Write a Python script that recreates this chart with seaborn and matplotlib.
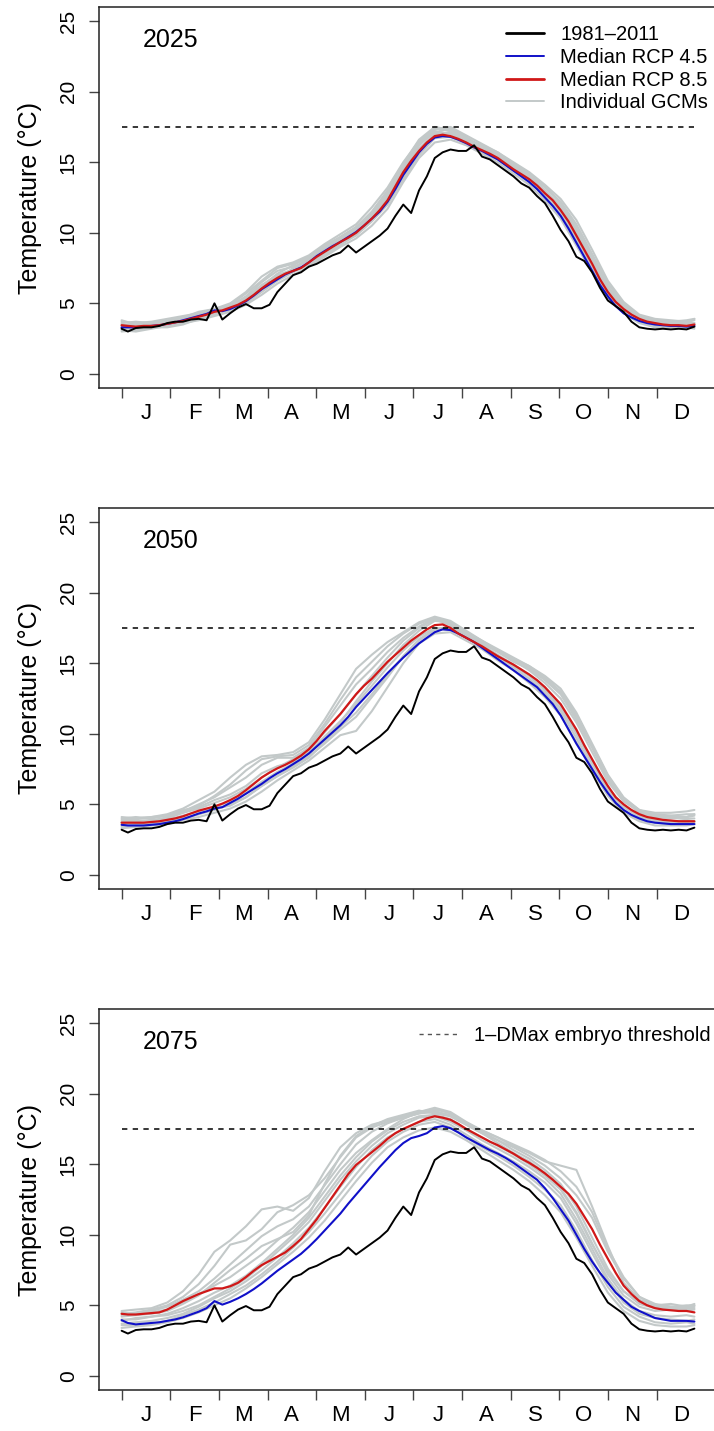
import numpy as np
import pandas as pd
import seaborn as sns
import matplotlib.pyplot as plt
from matplotlib.lines import Line2D

# day-of-year grids (medians / baseline every 5 days, GCMs every 10 days)
days = [1] + list(range(5, 366, 5))
gcm_days = [1] + list(range(10, 361, 10)) + [365]

month_labels = ['J', 'F', 'M', 'A', 'M', 'J', 'J', 'A', 'S', 'O', 'N', 'D']
years = ['2025', '2050', '2075']
threshold = 17.5

# observed climatology (same in every panel)
black_1981_2011 = [
    3.2, 3.0, 3.25, 3.3, 3.3, 3.4, 3.6, 3.7, 3.7, 3.85,
    3.9, 3.8, 5.0, 3.85, 4.3, 4.7, 4.95, 4.65, 4.65, 4.9,
    5.8, 6.4, 7.0, 7.2, 7.6, 7.8, 8.1, 8.4, 8.6, 9.1,
    8.6, 9.0, 9.4, 9.8, 10.3, 11.2, 12.0, 11.4, 13.0, 14.0,
    15.3, 15.7, 15.9, 15.8, 15.8, 16.2, 15.4, 15.2, 14.8, 14.4,
    14.0, 13.5, 13.2, 12.6, 12.1, 11.2, 10.2, 9.4, 8.3, 8.0,
    7.2, 6.1, 5.2, 4.8, 4.4, 3.7, 3.3, 3.2, 3.15, 3.2,
    3.15, 3.2, 3.15, 3.35]

# medians
rcp45_2025 = [
    3.3, 3.3, 3.3, 3.35, 3.4, 3.45, 3.55, 3.65, 3.8, 3.95,
    4.1, 4.25, 4.5, 4.45, 4.6, 4.85, 5.15, 5.55, 6.0, 6.35,
    6.7, 7.05, 7.3, 7.55, 7.9, 8.35, 8.7, 9.05, 9.35, 9.7,
    10.05, 10.5, 11.0, 11.5, 12.2, 13.1, 14.1, 14.9, 15.7, 16.3,
    16.75, 16.85, 16.8, 16.6, 16.35, 16.05, 15.8, 15.5, 15.2, 14.8,
    14.4, 14.0, 13.6, 13.1, 12.5, 11.9, 11.2, 10.3, 9.3, 8.3,
    7.3, 6.3, 5.5, 4.8, 4.3, 4.0, 3.75, 3.6, 3.5, 3.45,
    3.4, 3.4, 3.35, 3.4]
rcp85_2025 = [
    3.45, 3.4, 3.35, 3.4, 3.4, 3.45, 3.55, 3.65, 3.75, 3.9,
    4.05, 4.2, 4.4, 4.5, 4.7, 4.9, 5.2, 5.6, 6.05, 6.45,
    6.8, 7.1, 7.3, 7.5, 7.9, 8.3, 8.65, 9.0, 9.35, 9.65,
    10.0, 10.5, 11.0, 11.6, 12.3, 13.3, 14.3, 15.1, 15.8, 16.4,
    16.85, 16.95, 16.85, 16.65, 16.4, 16.1, 15.85, 15.6, 15.3, 14.9,
    14.5, 14.15, 13.8, 13.35, 12.8, 12.3, 11.6, 10.8, 9.8, 8.8,
    7.8, 6.7, 5.8, 5.1, 4.6, 4.2, 3.9, 3.7, 3.6, 3.5,
    3.45, 3.45, 3.4, 3.5]
rcp45_2050 = [
    3.55, 3.5, 3.5, 3.5, 3.55, 3.6, 3.7, 3.8, 3.95, 4.15,
    4.35, 4.5, 4.7, 4.8, 5.1, 5.4, 5.75, 6.1, 6.45, 6.85,
    7.2, 7.5, 7.85, 8.2, 8.6, 9.1, 9.6, 10.1, 10.6, 11.2,
    11.9, 12.5, 13.1, 13.7, 14.3, 14.85, 15.4, 15.9, 16.4, 16.8,
    17.2, 17.4, 17.35, 17.1, 16.8, 16.5, 16.1, 15.7, 15.3, 14.9,
    14.5, 14.1, 13.7, 13.3, 12.7, 12.1, 11.3, 10.3, 9.3, 8.4,
    7.5, 6.6, 5.8, 5.1, 4.6, 4.25, 4.0, 3.8, 3.7, 3.65,
    3.6, 3.6, 3.6, 3.6]
rcp85_2050 = [
    3.7, 3.7, 3.7, 3.7, 3.75, 3.8, 3.9, 4.0, 4.15, 4.35,
    4.55, 4.7, 4.85, 5.05, 5.3, 5.6, 6.0, 6.45, 6.9, 7.25,
    7.55, 7.8, 8.1, 8.45, 8.9, 9.5, 10.2, 10.8, 11.4, 12.1,
    12.8, 13.4, 13.9, 14.5, 15.1, 15.6, 16.1, 16.6, 17.0, 17.4,
    17.7, 17.75, 17.5, 17.1, 16.8, 16.5, 16.2, 15.85, 15.5, 15.2,
    14.9, 14.55, 14.2, 13.8, 13.3, 12.7, 12.1, 11.2, 10.3, 9.2,
    8.2, 7.2, 6.3, 5.5, 5.0, 4.6, 4.3, 4.1, 4.0, 3.9,
    3.85, 3.8, 3.8, 3.8]
rcp45_2075 = [
    3.95, 3.75, 3.65, 3.7, 3.75, 3.8, 3.9, 4.0, 4.15, 4.35,
    4.55, 4.8, 5.3, 5.05, 5.25, 5.5, 5.8, 6.15, 6.55, 7.0,
    7.45, 7.85, 8.25, 8.65, 9.15, 9.7, 10.3, 10.9, 11.5, 12.2,
    12.85, 13.5, 14.15, 14.8, 15.4, 16.0, 16.5, 16.85, 17.0, 17.2,
    17.6, 17.7, 17.55, 17.25, 16.9, 16.6, 16.3, 16.0, 15.75, 15.45,
    15.1, 14.7, 14.3, 13.9, 13.3, 12.6, 11.8, 11.0, 10.0, 9.0,
    8.1, 7.3, 6.6, 5.9, 5.4, 4.9, 4.6, 4.35, 4.1, 4.0,
    3.9, 3.9, 3.9, 3.85]
rcp85_2075 = [
    4.4, 4.35, 4.35, 4.4, 4.45, 4.5, 4.7, 5.0, 5.3, 5.55,
    5.8, 6.0, 6.2, 6.2, 6.35, 6.6, 7.0, 7.45, 7.85, 8.15,
    8.45, 8.75, 9.2, 9.7, 10.4, 11.1, 11.9, 12.7, 13.5, 14.3,
    14.95, 15.4, 15.85, 16.3, 16.8, 17.2, 17.5, 17.75, 18.0, 18.25,
    18.4, 18.3, 18.15, 17.85, 17.5, 17.2, 16.9, 16.6, 16.35, 16.05,
    15.75, 15.4, 15.1, 14.75, 14.35, 13.9, 13.4, 12.9, 12.2, 11.3,
    10.4, 9.3, 8.3, 7.3, 6.4, 5.8, 5.3, 5.0, 4.8, 4.7,
    4.65, 4.6, 4.6, 4.5]

# individual GCMs
gcms_2025 = [
    [3.6, 3.7, 3.6, 3.8, 4.0, 4.4, 4.6, 5.0, 5.8, 6.9, 7.6, 7.9, 8.4, 9.2, 9.9, 10.6, 11.8, 13.2, 15.0,
     16.5, 17.4, 17.2, 16.6, 16.1, 15.6, 14.8, 14.1, 13.2, 12.2, 10.6, 8.5, 6.4, 5.0, 4.1, 3.8, 3.7, 3.8, 3.9],
    [3.1, 3.0, 3.2, 3.4, 3.6, 3.8, 4.1, 4.4, 4.9, 5.6, 6.4, 7.0, 7.6, 8.3, 9.0, 9.6, 10.5, 11.7, 13.6,
     15.3, 16.4, 16.6, 16.2, 15.6, 15.0, 14.2, 13.4, 12.3, 11.0, 9.1, 7.2, 5.4, 4.3, 3.6, 3.3, 3.2, 3.2, 3.3],
    [3.5, 3.3, 3.5, 3.6, 3.9, 4.2, 4.6, 4.8, 5.5, 6.5, 7.3, 7.6, 8.0, 8.8, 9.6, 10.3, 11.3, 12.8, 14.8,
     16.3, 17.1, 17.4, 16.8, 16.0, 15.4, 14.7, 14.0, 13.0, 11.9, 10.2, 8.2, 6.1, 4.8, 4.0, 3.7, 3.6, 3.5, 3.6],
    [3.3, 3.5, 3.3, 3.5, 3.7, 4.0, 4.3, 4.5, 5.0, 5.8, 6.6, 7.2, 7.8, 8.5, 9.2, 9.8, 10.8, 12.0, 13.8,
     15.5, 16.7, 16.8, 16.3, 15.7, 15.2, 14.4, 13.7, 12.7, 11.5, 9.6, 7.5, 5.6, 4.5, 3.8, 3.5, 3.4, 3.3, 3.4],
    [3.7, 3.6, 3.7, 3.9, 4.1, 4.3, 4.6, 4.9, 5.4, 6.3, 7.0, 7.4, 8.1, 8.9, 9.5, 10.2, 11.2, 12.6, 14.5,
     16.0, 17.0, 17.1, 16.6, 16.0, 15.5, 14.7, 13.9, 13.0, 11.9, 10.1, 8.1, 6.0, 4.8, 4.0, 3.8, 3.7, 3.6, 3.9],
    [3.2, 3.2, 3.4, 3.5, 3.8, 4.1, 4.4, 4.8, 5.1, 5.9, 6.7, 7.5, 8.2, 8.7, 9.3, 10.1, 11.1, 12.5, 14.3,
     16.2, 17.2, 17.0, 16.5, 15.9, 15.4, 14.6, 13.8, 12.9, 11.7, 9.9, 7.9, 5.9, 4.6, 3.9, 3.6, 3.5, 3.5, 3.5],
    [3.4, 3.6, 3.5, 3.7, 3.9, 4.3, 4.4, 4.9, 5.7, 6.6, 7.5, 7.8, 8.3, 9.1, 9.7, 10.4, 11.5, 13.0, 14.9,
     16.6, 17.5, 17.3, 16.7, 16.2, 15.7, 15.0, 14.3, 13.4, 12.4, 10.9, 8.8, 6.6, 5.1, 4.2, 3.9, 3.8, 3.7, 3.8],
    [3.0, 3.1, 3.3, 3.3, 3.5, 3.9, 4.2, 4.6, 5.2, 6.1, 6.9, 7.3, 7.7, 8.4, 9.1, 9.9, 10.9, 12.2, 14.0,
     15.8, 16.9, 17.1, 16.4, 15.8, 15.3, 14.5, 13.6, 12.6, 11.3, 9.4, 7.4, 5.5, 4.3, 3.7, 3.4, 3.3, 3.3, 3.2],
    [3.8, 3.5, 3.6, 3.7, 4.0, 4.2, 4.5, 4.7, 5.3, 6.2, 7.1, 7.7, 8.3, 9.0, 9.7, 10.4, 11.4, 12.9, 14.6,
     16.4, 17.3, 17.5, 16.9, 16.3, 15.7, 14.9, 14.2, 13.3, 12.1, 10.4, 8.3, 6.2, 4.9, 4.1, 3.8, 3.6, 3.7, 3.6],
]
gcms_2050 = [
    [3.9, 4.0, 4.1, 4.3, 4.7, 5.3, 5.9, 6.9, 7.8, 8.4, 8.5, 8.7, 9.4, 11.0, 12.8, 14.6, 15.6, 16.5, 17.2,
     17.9, 18.3, 18.0, 17.3, 16.6, 15.9, 15.2, 14.5, 13.6, 12.5, 10.8, 8.7, 6.6, 5.2, 4.5, 4.2, 4.1, 4.0, 4.0],
    [3.3, 3.4, 3.5, 3.6, 3.9, 4.1, 4.4, 4.7, 5.2, 5.9, 6.7, 7.4, 8.1, 9.0, 9.9, 10.2, 11.6, 13.3, 15.0,
     16.4, 17.1, 17.2, 16.6, 16.0, 15.2, 14.5, 13.6, 12.6, 11.3, 9.4, 7.4, 5.6, 4.4, 3.8, 3.5, 3.5, 3.5, 3.6],
    [3.8, 3.9, 3.8, 4.1, 4.5, 5.0, 5.5, 6.2, 6.9, 7.8, 8.3, 8.3, 9.0, 10.5, 12.0, 13.5, 14.6, 15.8, 16.8,
     17.6, 18.2, 17.8, 17.0, 16.4, 15.8, 15.1, 14.6, 13.8, 12.8, 11.0, 9.0, 6.8, 5.3, 4.4, 4.1, 4.0, 4.1, 4.2],
    [3.5, 3.6, 3.7, 3.9, 4.2, 4.5, 4.8, 5.2, 5.8, 6.6, 7.3, 7.9, 8.7, 9.8, 10.9, 12.1, 13.4, 14.7, 15.9,
     16.9, 17.5, 17.4, 16.8, 16.1, 15.4, 14.8, 14.1, 13.1, 11.8, 10.0, 7.9, 6.0, 4.8, 4.1, 3.8, 3.7, 3.6, 3.7],
    [4.1, 4.0, 4.1, 4.2, 4.6, 4.8, 5.3, 5.7, 6.3, 7.2, 7.7, 8.0, 8.6, 9.6, 10.8, 12.3, 13.7, 15.0, 16.3,
     17.3, 18.0, 17.9, 17.2, 16.6, 16.0, 15.4, 14.8, 14.1, 13.2, 11.5, 9.3, 7.1, 5.5, 4.6, 4.4, 4.4, 4.5, 4.6],
    [3.6, 3.5, 3.6, 3.8, 4.0, 4.3, 4.7, 4.9, 5.5, 6.3, 7.0, 7.6, 8.3, 9.4, 10.5, 11.5, 12.8, 14.2, 15.5,
     16.6, 17.4, 17.6, 17.0, 16.3, 15.6, 14.9, 14.2, 13.3, 12.0, 10.2, 8.1, 6.2, 4.9, 4.2, 3.9, 3.8, 3.9, 3.8],
    [3.7, 3.8, 3.9, 4.0, 4.4, 4.9, 5.6, 6.4, 7.4, 8.2, 8.4, 8.5, 9.2, 10.7, 12.4, 14.0, 15.1, 16.2, 17.1,
     17.8, 18.2, 17.9, 17.2, 16.5, 15.9, 15.3, 14.8, 14.0, 13.0, 11.3, 9.2, 7.0, 5.4, 4.5, 4.3, 4.2, 4.3, 4.3],
    [3.4, 3.5, 3.6, 3.7, 4.0, 4.3, 4.6, 5.0, 5.5, 6.3, 7.0, 7.7, 8.4, 9.3, 10.3, 11.2, 12.6, 14.0, 15.5,
     16.7, 17.4, 17.4, 16.9, 16.2, 15.5, 14.7, 13.9, 12.9, 11.6, 9.7, 7.6, 5.8, 4.6, 3.9, 3.7, 3.6, 3.7, 3.6],
    [4.0, 4.1, 4.0, 4.2, 4.4, 4.7, 5.1, 5.5, 6.1, 6.9, 7.6, 8.2, 8.9, 10.1, 11.4, 12.8, 14.1, 15.4, 16.6,
     17.5, 18.1, 17.7, 17.1, 16.5, 15.9, 15.3, 14.7, 13.9, 12.9, 11.2, 9.1, 6.9, 5.4, 4.6, 4.2, 4.2, 4.1, 4.3],
]
gcms_2075 = [
    [4.6, 4.7, 4.8, 5.2, 6.0, 7.2, 8.8, 9.6, 10.6, 11.8, 12.0, 11.7, 12.6, 14.5, 16.2, 17.2, 17.8, 18.1, 18.4,
     18.7, 18.9, 18.6, 17.9, 17.3, 16.7, 16.0, 15.4, 14.6, 13.6, 12.0, 9.8, 7.6, 6.0, 5.1, 4.8, 4.8, 4.7, 4.8],
    [4.4, 4.5, 4.7, 5.0, 5.6, 6.5, 7.8, 9.3, 9.6, 10.4, 11.6, 12.1, 12.8, 14.0, 15.5, 16.9, 17.6, 18.0, 18.3,
     18.6, 18.8, 18.4, 17.8, 17.2, 16.5, 15.8, 15.2, 14.4, 13.3, 11.6, 9.4, 7.2, 5.7, 4.9, 4.6, 4.7, 4.6, 4.7],
    [4.3, 4.4, 4.5, 4.7, 5.2, 5.8, 6.4, 7.0, 7.8, 8.6, 9.6, 10.5, 11.6, 13.1, 14.6, 15.8, 16.7, 17.5, 18.2,
     18.7, 19.0, 18.7, 18.0, 17.4, 16.9, 16.3, 15.8, 15.2, 14.9, 14.6, 12.0, 9.2, 6.6, 5.4, 5.0, 5.1, 4.9, 5.1],
    [3.4, 3.5, 3.6, 3.8, 4.1, 4.5, 5.0, 5.5, 6.2, 7.0, 7.9, 8.8, 9.8, 11.0, 12.4, 13.8, 15.1, 16.2, 16.9,
     17.4, 17.6, 17.3, 16.7, 16.0, 15.3, 14.6, 13.8, 12.8, 11.6, 9.8, 7.8, 5.9, 4.6, 3.9, 3.6, 3.5, 3.5, 3.6],
    [4.0, 4.0, 4.2, 4.4, 4.8, 5.3, 5.9, 6.4, 7.1, 8.0, 9.0, 10.0, 11.2, 12.7, 14.2, 15.5, 16.6, 17.4, 18.0,
     18.4, 18.5, 18.2, 17.5, 16.9, 16.3, 15.7, 15.0, 14.2, 13.2, 11.5, 9.3, 7.4, 6.0, 5.2, 4.9, 4.9, 4.8, 4.9],
    [3.7, 3.8, 3.9, 4.1, 4.4, 4.9, 5.5, 6.0, 6.7, 7.5, 8.4, 9.4, 10.5, 11.9, 13.4, 14.8, 16.0, 16.9, 17.5,
     18.0, 18.2, 17.8, 17.1, 16.4, 15.8, 15.2, 14.5, 13.7, 12.6, 10.8, 8.7, 6.7, 5.2, 4.4, 4.1, 4.0, 3.9, 4.0],
    [4.2, 4.3, 4.4, 4.6, 5.1, 5.7, 6.6, 7.5, 8.3, 9.2, 9.7, 10.2, 11.4, 13.6, 15.6, 17.0, 17.7, 18.2, 18.5,
     18.8, 18.6, 18.4, 17.8, 17.2, 16.7, 16.2, 15.6, 14.9, 14.0, 12.8, 11.2, 8.8, 6.9, 5.6, 5.1, 4.9, 5.0, 5.0],
    [3.9, 4.1, 4.2, 4.3, 4.6, 5.0, 5.6, 6.2, 6.9, 7.8, 8.8, 9.8, 10.9, 12.4, 13.9, 15.2, 16.3, 17.2, 17.8,
     18.3, 18.4, 18.0, 17.4, 16.7, 16.1, 15.5, 14.8, 14.0, 12.9, 11.1, 9.0, 6.9, 5.4, 4.6, 4.3, 4.2, 4.3, 4.2],
    [3.6, 3.6, 3.7, 3.9, 4.3, 4.7, 5.2, 5.8, 6.4, 7.2, 8.1, 9.1, 10.2, 11.5, 12.9, 14.3, 15.6, 16.6, 17.3,
     17.8, 18.0, 17.6, 16.9, 16.2, 15.6, 14.9, 14.1, 13.2, 12.1, 10.3, 8.2, 6.3, 4.9, 4.2, 3.8, 3.7, 3.8, 3.7],
    [4.5, 4.4, 4.6, 4.9, 5.4, 6.0, 6.9, 7.9, 8.9, 9.9, 10.6, 11.1, 12.0, 13.5, 15.0, 16.4, 17.3, 17.9, 18.3,
     18.6, 18.7, 18.5, 17.9, 17.4, 16.9, 16.4, 15.9, 15.3, 14.5, 13.4, 11.6, 9.0, 7.0, 5.6, 5.0, 4.9, 4.8, 5.0],
]

panels = [
    ('2025', rcp45_2025, rcp85_2025, gcms_2025),
    ('2050', rcp45_2050, rcp85_2050, gcms_2050),
    ('2075', rcp45_2075, rcp85_2075, gcms_2075),
]

sns.set_style('white')
plt.rcParams['font.family'] = ['Liberation Sans', 'DejaVu Sans']
plt.rcParams['text.color'] = 'black'
plt.rcParams['xtick.color'] = 'black'
plt.rcParams['ytick.color'] = 'black'

GREY = '#c3c9c9'
BLUE = '#1010c8'
RED = '#d01818'
EDGE = '#222222'

fig = plt.figure(figsize=(7.14, 14.31), dpi=100)

# axes boxes (the right edge runs off the picture, as in the original crop)
px_day = 1.5736
x0 = 1 - 14.56
ax_left = 98.7
ax_right = 720.0
x1 = x0 + (ax_right - ax_left) / px_day
tops = [7, 508, 1009]
box_h = 381
W, H = 714.0, 1431.0
xfrac = lambda px: (px - ax_left) / (ax_right - ax_left)

month_step = 30.91
month_starts = [1 + k * month_step for k in range(12)]
month_mids = [m + month_step / 2 for m in month_starts]

for i, (year, med45, med85, gcms) in enumerate(panels):
    ax = fig.add_axes([ax_left / W, 1 - (tops[i] + box_h) / H,
                       (ax_right - ax_left) / W, box_h / H])

    for g in gcms:
        sns.lineplot(x=gcm_days, y=g, ax=ax, color=GREY, lw=1.5, sort=False)
    sns.lineplot(x=days, y=med45, ax=ax, color=BLUE, lw=1.5, sort=False)
    sns.lineplot(x=days, y=med85, ax=ax, color=RED, lw=1.6, sort=False)
    sns.lineplot(x=days, y=black_1981_2011, ax=ax, color='black', lw=1.4, sort=False)
    ax.hlines(threshold, days[0], days[-1], colors='black', lw=1.1,
              linestyles=(0, (3.5, 3.5)))

    ax.set_xlim(x0, x1)
    ax.set_ylim(-1, 26)

    ax.set_yticks([0, 5, 10, 15, 20, 25])
    ax.set_yticklabels(['0', '5', '10', '15', '20', '25'], rotation=90, va='center')
    ax.set_xticks(month_starts)
    ax.set_xticklabels([])
    ax.set_xticks(month_mids, minor=True)
    ax.set_xticklabels(month_labels, minor=True)

    ax.tick_params(axis='both', which='major', direction='out', length=7,
                   width=1, color='#444444', bottom=True, left=True)
    ax.tick_params(axis='y', which='major', labelsize=15, pad=8)
    ax.tick_params(axis='x', which='minor', bottom=True, length=0, labelsize=16, pad=11)
    ax.tick_params(axis='x', which='major', labelbottom=False)

    for sp in ax.spines.values():
        sp.set_color(EDGE)
        sp.set_linewidth(1.1)

    ax.set_xlabel('')
    ax.set_ylabel('')
    ax.text(xfrac(30), 0.5, 'Temperature (°C)', transform=ax.transAxes,
            rotation=90, ha='center', va='center', fontsize=18)
    ax.text(xfrac(143), 0.913, year, transform=ax.transAxes,
            ha='left', va='center', fontsize=18)

    if i == 0:
        handles = [Line2D([], [], color='black', lw=2.0),
                   Line2D([], [], color=BLUE, lw=1.4),
                   Line2D([], [], color=RED, lw=2.0),
                   Line2D([], [], color=GREY, lw=1.4)]
        labels = ['1981\u20132011', 'Median RCP 4.5', 'Median RCP 8.5', 'Individual GCMs']
        ax.legend(handles, labels, loc='upper left', bbox_to_anchor=(xfrac(506), 0.953),
                  frameon=False, borderpad=0, borderaxespad=0, handlelength=1.9,
                  handletextpad=0.8, labelspacing=0.19, fontsize=14.5)
    if i == 2:
        handles = [Line2D([], [], color='#555555', lw=1.0, linestyle=(0, (3, 3)))]
        ax.legend(handles, ['1\u2013DMax embryo threshold'], loc='upper left',
                  bbox_to_anchor=(xfrac(419), 0.955), frameon=False, borderpad=0,
                  borderaxespad=0, handlelength=1.9, handletextpad=0.85, fontsize=14.5)

fig.savefig('out.png', dpi=100)
